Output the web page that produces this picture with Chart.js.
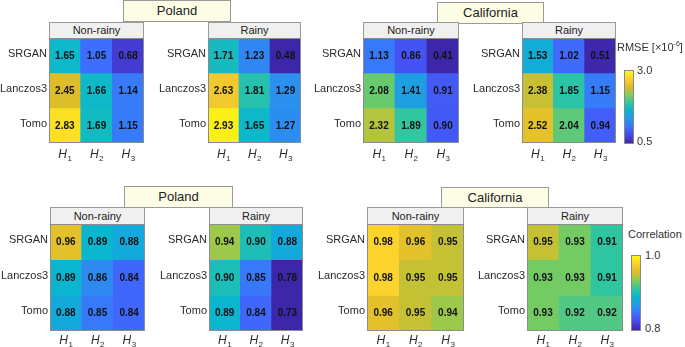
<!DOCTYPE html>
<html><head><meta charset="utf-8">
<script src="https://cdn.jsdelivr.net/npm/chart.js@4/dist/chart.umd.min.js"></script>
<style>
html,body{margin:0;padding:0;background:#fff;}
body{width:685px;height:347px;position:relative;overflow:hidden;font-family:"Liberation Sans",Arial,sans-serif;}
canvas{position:absolute;}
.grp{position:absolute;background:#fdfde6;border:1px solid #9a9a9a;box-sizing:border-box;text-align:center;font-size:13px;color:#222;}
.sub{position:absolute;background:#f0f0f0;border:1px solid #9a9a9a;box-sizing:border-box;text-align:center;font-size:11px;color:#222;}
.cb{position:absolute;border:1px solid #888;box-sizing:border-box;}
.lbl{position:absolute;font-size:11px;color:#333;white-space:nowrap;}
</style></head><body>
<script>
// ---- data ----
const rowLabels = ['SRGAN', 'Lanczos3', 'Tomo'];
const colLabels = ['1', '2', '3']; // H subscripts
const rmsePolandNonRainy = [[1.65, 1.05, 0.68], [2.45, 1.66, 1.14], [2.83, 1.69, 1.15]];
const rmsePolandRainy    = [[1.71, 1.23, 0.48], [2.63, 1.81, 1.29], [2.93, 1.65, 1.27]];
const rmseCalNonRainy    = [[1.13, 0.86, 0.41], [2.08, 1.41, 0.91], [2.32, 1.89, 0.90]];
const rmseCalRainy       = [[1.53, 1.02, 0.51], [2.38, 1.85, 1.15], [2.52, 2.04, 0.94]];
const corrPolandNonRainy = [[0.96, 0.89, 0.88], [0.89, 0.86, 0.84], [0.88, 0.85, 0.84]];
const corrPolandRainy    = [[0.94, 0.90, 0.88], [0.90, 0.85, 0.78], [0.89, 0.84, 0.73]];
const corrCalNonRainy    = [[0.98, 0.96, 0.95], [0.98, 0.95, 0.95], [0.96, 0.95, 0.94]];
const corrCalRainy       = [[0.95, 0.93, 0.91], [0.93, 0.93, 0.91], [0.93, 0.92, 0.92]];
const rmseRange = [0.5, 3.0];
const corrRange = [0.8, 1.0];
const rmseTicks = ['0.5', '3.0'];
const corrTicks = ['0.8', '1.0'];

// ---- parula colormap ----
const PARULA = [[62,38,168],[71,71,235],[62,111,255],[39,150,235],[8,181,208],[49,198,159],[129,204,89],[220,189,41],[252,207,48],[249,251,14]];
function parula(t){
  t = Math.max(0, Math.min(1, t));
  const n = PARULA.length - 1, f = t*n, i = Math.min(n-1, Math.floor(f)), u = f - i;
  const a = PARULA[i], b = PARULA[i+1];
  return `rgb(${Math.round(a[0]+(b[0]-a[0])*u)},${Math.round(a[1]+(b[1]-a[1])*u)},${Math.round(a[2]+(b[2]-a[2])*u)})`;
}
function gradientCSS(){
  return 'linear-gradient(to top,' + PARULA.map((c,i)=>`rgb(${c[0]},${c[1]},${c[2]}) ${(i/(PARULA.length-1)*100).toFixed(1)}%`).join(',') + ')';
}

const FONT = '"Liberation Sans", Arial, sans-serif';
const PADL = 62, PADB = 26;

const heatPlugin = {
  id: 'heat',
  afterDatasetsDraw(chart){
    const ctx = chart.ctx, ca = chart.chartArea, vals = chart.options.plugins.heat.values;
    const xs = chart.scales.x, ys = chart.scales.y;
    ctx.save();
    // values in cells
    ctx.font = 'bold 10px ' + FONT; ctx.fillStyle = '#111'; ctx.textAlign = 'center'; ctx.textBaseline = 'middle';
    chart.data.datasets.forEach((ds, di) => {
      const meta = chart.getDatasetMeta(di);
      meta.data.forEach((bar, j) => {
        const p = bar.getProps(['x','y','base'], true);
        ctx.fillText(vals[di][j].toFixed(2), p.x, (p.y + p.base)/2 + 0.5);
      });
    });
    // outer border
    ctx.strokeStyle = '#8c8c8c'; ctx.lineWidth = 1;
    ctx.strokeRect(Math.round(ca.left)+0.5, Math.round(ca.top)+0.5, Math.round(ca.right-ca.left)-1, Math.round(ca.bottom-ca.top)-1);
    // row labels
    ctx.font = '11px ' + FONT; ctx.fillStyle = '#2a2a2a'; ctx.textAlign = 'right';
    rowLabels.forEach((r, i) => {
      const yc = ys.getPixelForValue(i + 0.5);
      ctx.fillText(r, ca.left - 2, yc - 2);
    });
    // H labels
    colLabels.forEach((c, j) => {
      const xc = xs.getPixelForValue(j);
      ctx.font = 'italic 12px ' + FONT;
      const wH = ctx.measureText('H').width;
      ctx.font = '8px ' + FONT;
      const wS = ctx.measureText(c).width;
      const x0 = xc - (wH + wS)/2;
      const yb = ca.bottom + chart.options.plugins.heat.hOffset;
      ctx.textAlign = 'left'; ctx.textBaseline = 'alphabetic';
      ctx.font = 'italic 12px ' + FONT; ctx.fillText('H', x0, yb);
      ctx.font = '8px ' + FONT; ctx.fillText(c, x0 + wH + 0.5, yb + 3);
    });
    ctx.restore();
  }
};

function makeHeat(x, y, w, h, values, range, hOffset){
  const cv = document.createElement('canvas');
  cv.width = w + PADL + 1; cv.height = h + PADB;
  cv.style.left = (x - PADL) + 'px'; cv.style.top = y + 'px';
  document.body.appendChild(cv);
  const norm = v => (v - range[0]) / (range[1] - range[0]);
  new Chart(cv, {
    type: 'bar',
    data: {
      labels: colLabels,
      datasets: rowLabels.map((r, ri) => ({
        label: r,
        data: values[ri].map(() => 1),
        backgroundColor: values[ri].map(v => parula(norm(v))),
        borderWidth: 0,
        barPercentage: 1, categoryPercentage: 1
      }))
    },
    options: {
      responsive: false, animation: false, devicePixelRatio: 1,
      layout: { padding: { left: PADL, right: 1, top: 0, bottom: PADB } },
      scales: {
        x: { display: false, stacked: true },
        y: { display: false, stacked: true, min: 0, max: 3, reverse: true }
      },
      plugins: { legend: { display: false }, tooltip: { enabled: false }, heat: { values, hOffset } }
    },
    plugins: [heatPlugin]
  });
}

function div(cls, x, y, w, h, text){
  const d = document.createElement('div');
  d.className = cls;
  d.style.left = x + 'px'; d.style.top = y + 'px';
  if (w != null) d.style.width = w + 'px';
  if (h != null) { d.style.height = h + 'px'; d.style.lineHeight = (h - 2) + 'px'; }
  d.innerHTML = text;
  document.body.appendChild(d);
  return d;
}

// top row (RMSE)
div('grp', 123, 0, 108, 22, 'Poland');
div('grp', 437, 2, 107, 22, 'California');
div('sub', 49, 22, 95, 17, 'Non-rainy');
div('sub', 208, 22, 93, 17, 'Rainy');
div('sub', 363, 22, 96, 17, 'Non-rainy');
div('sub', 522, 22, 94, 17, 'Rainy');
makeHeat(49, 38, 95, 105, rmsePolandNonRainy, rmseRange, 15);
makeHeat(208, 38, 93, 105, rmsePolandRainy, rmseRange, 15);
makeHeat(363, 38, 96, 105, rmseCalNonRainy, rmseRange, 15);
makeHeat(522, 38, 94, 105, rmseCalRainy, rmseRange, 15);

// bottom row (Correlation)
div('grp', 124, 186, 109, 22, 'Poland');
div('grp', 441, 187, 108, 21, 'California');
div('sub', 50, 207, 95, 18, 'Non-rainy');
div('sub', 209, 207, 94, 18, 'Rainy');
div('sub', 367, 207, 97, 18, 'Non-rainy');
div('sub', 527, 207, 96, 18, 'Rainy');
makeHeat(50, 224, 95, 107, corrPolandNonRainy, corrRange, 13);
makeHeat(209, 224, 94, 107, corrPolandRainy, corrRange, 13);
makeHeat(367, 224, 97, 107, corrCalNonRainy, corrRange, 13);
makeHeat(527, 224, 96, 107, corrCalRainy, corrRange, 13);

// colorbars
const cb1 = div('cb', 624, 70, 10, 74, ''); cb1.style.background = gradientCSS();
div('lbl', 617, 41, null, null, 'RMSE [×10<sup style="font-size:7px;line-height:0">-6</sup>]');
div('lbl', 637, 64, null, null, rmseTicks[1]);
div('lbl', 637, 135, null, null, rmseTicks[0]);
const cb2 = div('cb', 631, 255, 10, 76, ''); cb2.style.background = gradientCSS();
div('lbl', 628, 228, null, null, 'Correlation');
div('lbl', 645, 249, null, null, corrTicks[1]);
div('lbl', 645, 322, null, null, corrTicks[0]);
</script>
</body></html>
